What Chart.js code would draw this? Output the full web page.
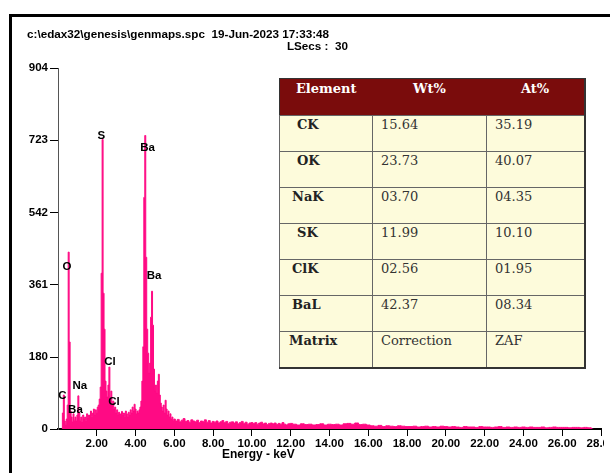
<!DOCTYPE html>
<html>
<head>
<meta charset="utf-8">
<script src="https://cdn.jsdelivr.net/npm/chart.js@4/dist/chart.umd.min.js"></script>
<style>
  body { margin: 0; background: #fff; }
  #wrap { position: relative; width: 610px; height: 473px; overflow: hidden; background: #fff; }
  #spectrum { position: absolute; left: 0; top: 0; }
  #frame { position: absolute; left: 9px; top: 14px; width: 620px; height: 480px;
           border-left: 3px solid #000; border-top: 3px solid #000; pointer-events: none; }
  .hdr { position: absolute; font: bold 11.7px Arial, "Liberation Sans", sans-serif; color: #000; white-space: pre; }
  #xtitle { position: absolute; left: 222px; top: 447px; font: bold 12px Arial, "Liberation Sans", sans-serif; }
  #comp { position: absolute; left: 279px; top: 78px; width: 305px; height: 289px;
          border-collapse: collapse; table-layout: fixed; background: #fdfbdb;
          font-family: "DejaVu Serif", serif; font-size: 13px;
          border: 1px solid #333; border-right: 2px solid #333; border-bottom: 2px solid #333; }
  #comp th { background: #7a0c0c; color: #fff; font-weight: bold; height: 37px; padding: 2px 0 0 0;
             vertical-align: top; text-align: center; box-sizing: border-box; }
  #comp td { border: 1px solid #666; height: 36px; padding: 1px 0 0 8px; vertical-align: top;
             color: #333; box-sizing: border-box; }
  #comp td.el { font-weight: bold; color: #222; }
</style>
</head>
<body>
<div id="wrap">
  <canvas id="spectrum" width="604" height="473"></canvas>
  <div id="frame"></div>
  <div class="hdr" style="left:27px; top:27px;">c:\edax32\genesis\genmaps.spc  19-Jun-2023 17:33:48</div>
  <div class="hdr" style="left:0; top:39px; width:348px; text-align:right;">LSecs :  30</div>
  <div id="xtitle">Energy - keV</div>
  <table id="comp">
    <colgroup><col style="width:93px"><col style="width:114px"><col style="width:98px"></colgroup>
    <thead><tr id="headRow"></tr></thead>
    <tbody id="bodyRows"></tbody>
  </table>
</div>
<script>
// spectrum, 0.20 - 6.00 keV, 0.05 keV per channel
const lowStart = 0.20;
const lowStep = 0.05;
const lowCounts = [
  0, 40, 85, 20, 12, 25, 60, 443, 218, 45,
  30, 18, 38, 22, 30, 20, 35, 83, 40, 22,
  30, 18, 35, 25, 30, 22, 38, 28, 35, 30,
  45, 32, 40, 50, 35, 48, 42, 55, 60, 75,
  105, 390, 725, 340, 250, 120, 95, 80, 110, 155,
  75, 95, 60, 70, 50, 55, 40, 48, 35, 42,
  38, 30, 44, 36, 40, 32, 45, 38, 30, 42,
  35, 48, 40, 55, 45, 62, 50, 38, 45, 40,
  48, 55, 70, 120, 206, 580, 735, 430, 250, 190,
  140, 165, 280, 345, 260, 150, 95, 110, 90, 120,
  137, 85, 65, 55, 45, 60, 40, 72, 50, 35,
  45, 30, 38, 25, 30, 22, 25
];

// 6.1 - 12.0 keV, 0.1 keV steps
const midStart = 6.1;
const midStep = 0.1;
const midCounts = [
  20, 24, 18, 22, 26, 19, 21, 17, 23, 20,
  18, 22, 16, 20, 19, 23, 17, 21, 15, 19,
  17, 20, 15, 18, 21, 16, 19, 14, 17, 18,
  15, 18, 13, 16, 19, 14, 17, 12, 15, 16,
  14, 16, 12, 15, 17, 13, 15, 11, 14, 15,
  13, 15, 11, 14, 12, 16, 12, 10, 13, 14
];

// 12.2 - 27.4 keV, 0.2 keV steps
const tailStart = 12.2;
const tailStep = 0.2;
const tailCounts = [
  12, 10, 13, 11, 12, 10, 11, 13, 10, 12,
  11, 12, 10, 13, 14, 12, 15, 11, 12, 10,
  8, 7, 9, 6, 8, 7, 6, 8, 7, 6,
  6, 7, 5, 6, 7, 5, 6, 5, 7, 6,
  5, 6, 5, 4, 6, 5, 5, 4, 6, 5,
  5, 4, 5, 6, 4, 5, 4, 5, 4, 5,
  4, 5, 4, 4, 5, 3, 4, 5, 4, 4,
  4, 3, 4, 4, 3, 4, 3
];

const yTickValues = [0, 180, 361, 542, 723, 904];
const xTickValues = [2, 4, 6, 8, 10, 12, 14, 16, 18, 20, 22, 24, 26, 28];

// peak labels (keV, counts where the label sits)
const peakNames = ['S', 'Ba', 'O', 'Ba', 'Cl', 'Na', 'C', 'Ba', 'Cl'];
const peakEnergy = [2.24, 4.62, 0.46, 4.95, 2.68, 1.13, 0.23, 0.90, 2.89];
const peakCounts = [735, 705, 406, 384, 168, 108, 83, 48, 68];

// composition table
const tableHeader = ['Element', 'Wt%', 'At%'];
const elements = ['CK', 'OK', 'NaK', 'SK', 'ClK', 'BaL', 'Matrix'];
const wtPercent = ['15.64', '23.73', '03.70', '11.99', '02.56', '42.37', 'Correction'];
const atPercent = ['35.19', '40.07', '04.35', '10.10', '01.95', '08.34', 'ZAF'];

function buildTable() {
    var head = document.getElementById('headRow');
    tableHeader.forEach(function(h) {
        var th = document.createElement('th');
        th.textContent = h;
        head.appendChild(th);
    });
    var body = document.getElementById('bodyRows');
    elements.forEach(function(el, i) {
        var tr = document.createElement('tr');
        var pad = el.length <= 2 ? 17 : (el === 'Matrix' ? 9 : 12);
        [el, wtPercent[i], atPercent[i]].forEach(function(txt, j) {
            var td = document.createElement('td');
            td.textContent = txt;
            if (j === 0) {
                td.className = 'el';
                td.style.paddingLeft = pad + 'px';
            }
            tr.appendChild(td);
        });
        body.appendChild(tr);
    });
}

function spectrumPoints() {
    const pts = [];
    lowCounts.forEach((c, i) => pts.push({ x: lowStart + i * lowStep, y: c }));
    midCounts.forEach((c, i) => pts.push({ x: midStart + i * midStep, y: c }));
    tailCounts.forEach((c, i) => pts.push({ x: tailStart + i * tailStep, y: c }));
    pts.push({ x: tailStart + tailCounts.length * tailStep, y: 0 });
    return pts;
}

const peakLabelPlugin = {
    id: 'peakLabels',
    afterDatasetsDraw(chart) {
        const ctx = chart.ctx;
        const xs = chart.scales.x, ys = chart.scales.y;
        ctx.save();
        ctx.font = 'bold 11.5px Arial, "Liberation Sans", sans-serif';
        ctx.fillStyle = '#000';
        ctx.textAlign = 'center';
        ctx.textBaseline = 'middle';
        peakNames.forEach((name, i) => {
            ctx.fillText(name, xs.getPixelForValue(peakEnergy[i]), ys.getPixelForValue(peakCounts[i]));
        });
        ctx.restore();
    }
};

const tickFont = { family: 'Arial, "Liberation Sans", sans-serif', size: 11.5, weight: 'bold' };

function createSpectrum() {
    const ctx = document.getElementById('spectrum').getContext('2d');
    new Chart(ctx, {
        type: 'line',
        data: {
            datasets: [{
                data: spectrumPoints(),
                borderColor: '#ff0a84',
                backgroundColor: '#ff0a84',
                borderWidth: 1,
                pointRadius: 0,
                stepped: 'middle',
                fill: 'origin'
            }]
        },
        options: {
            responsive: false,
            animation: false,
            layout: { padding: { left: 0, top: 68, right: 3, bottom: 0 } },
            plugins: { legend: { display: false }, tooltip: { enabled: false } },
            scales: {
                x: {
                    type: 'linear',
                    min: 0,
                    max: 28,
                    afterBuildTicks: s => { s.ticks = xTickValues.map(v => ({ value: v })); },
                    afterFit: s => { s.height = 44; s.paddingLeft = 0; s.paddingRight = 0; },
                    ticks: {
                        autoSkip: false, maxRotation: 0, padding: 1, color: '#000', font: tickFont,
                        callback: v => Number(v).toFixed(2)
                    },
                    grid: { drawOnChartArea: false, drawTicks: true, tickLength: 7, color: '#000' },
                    border: { display: true, color: '#000', width: 2 }
                },
                y: {
                    min: 0,
                    max: 904,
                    afterBuildTicks: s => { s.ticks = yTickValues.map(v => ({ value: v })); },
                    afterFit: s => { s.width = 58; s.paddingTop = 0; s.paddingBottom = 0; },
                    ticks: { autoSkip: false, padding: 2, color: '#000', font: tickFont },
                    grid: { drawOnChartArea: false, drawTicks: true, tickLength: 8, color: '#000' },
                    border: { display: true, color: '#555', width: 1 }
                }
            }
        },
        plugins: [peakLabelPlugin]
    });
}

window.onload = function() {
    buildTable();
    createSpectrum();
};
</script>
</body>
</html>
